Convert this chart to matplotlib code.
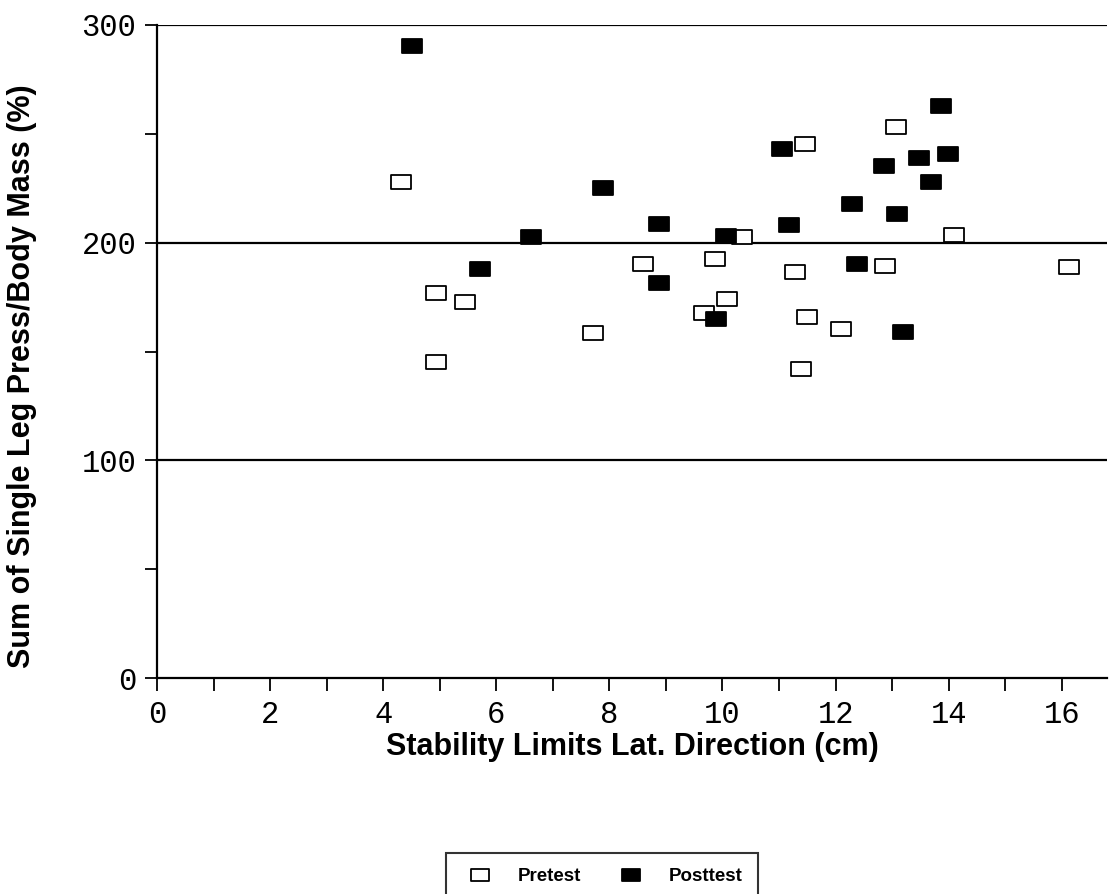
import matplotlib
matplotlib.use("Agg")
import matplotlib.pyplot as plt
from matplotlib.path import Path
from matplotlib.ticker import MultipleLocator

# Pretest (open markers)
pre_x = [4.31, 4.93, 5.45, 4.94, 7.71, 8.59, 13.06, 11.46, 10.34, 14.09,
         9.87, 11.28, 12.87, 16.12, 10.08, 9.68, 11.49, 12.09, 11.38]
pre_y = [227.8, 177.0, 172.7, 145.0, 158.3, 190.0, 253.2, 245.1, 202.4, 203.3,
         192.5, 186.4, 189.4, 188.7, 174.2, 167.5, 166.0, 160.3, 141.9]

# Posttest (filled markers)
post_x = [4.51, 7.89, 8.88, 6.61, 5.72, 8.88, 13.87, 11.06, 12.86, 13.47,
          13.99, 13.68, 12.29, 13.08, 11.17, 10.07, 12.38, 9.88, 13.20]
post_y = [290.3, 225.0, 208.4, 202.4, 188.0, 181.6, 262.9, 243.0, 235.2, 239.0,
          240.7, 227.7, 217.7, 213.1, 208.0, 203.2, 190.0, 165.0, 158.8]

x_ticks = [0, 2, 4, 6, 8, 10, 12, 14, 16]
y_ticks = [0, 100, 200, 300]

# wide rectangle marker
rect = Path([(-1, -0.72), (1, -0.72), (1, 0.72), (-1, 0.72), (-1, -0.72)],
            [Path.MOVETO, Path.LINETO, Path.LINETO, Path.LINETO, Path.CLOSEPOLY])

fig = plt.figure(figsize=(11.09, 8.94), dpi=100)
ax = fig.add_axes([157 / 1109, 1 - 678 / 894, (1107 - 157) / 1109, (678 - 25) / 894])

ax.plot(pre_x, pre_y, linestyle="none", marker=rect, markersize=14,
        markerfacecolor="white", markeredgecolor="black", markeredgewidth=1.3,
        label="Pretest", zorder=3)
ax.plot(post_x, post_y, linestyle="none", marker=rect, markersize=14,
        markerfacecolor="black", markeredgecolor="black", markeredgewidth=1.3,
        label="Posttest", zorder=4)

for yv in [100, 200, 300]:
    ax.axhline(yv, color="black", linewidth=1.6, zorder=2)

ax.set_xlim(0, 16.8)
ax.set_ylim(0, 300)
ax.set_xticks(x_ticks)
ax.xaxis.set_minor_locator(MultipleLocator(1))
ax.set_yticks(y_ticks)
ax.yaxis.set_minor_locator(MultipleLocator(50))

for s in ["top", "right"]:
    ax.spines[s].set_visible(False)
for s in ["left", "bottom"]:
    ax.spines[s].set_linewidth(1.6)

ax.tick_params(axis="both", which="both", direction="out", length=9, width=1.3)
ax.tick_params(axis="x", which="major", pad=7)
ax.tick_params(axis="y", which="major", pad=6)
for lab in ax.get_xticklabels() + ax.get_yticklabels():
    lab.set_family("Liberation Mono")
    lab.set_fontsize(22)

ax.set_xlabel("Stability Limits Lat. Direction (cm)", fontsize=22,
              fontweight="bold", family="Liberation Sans", labelpad=1)
ax.set_ylabel("Sum of Single Leg Press/Body Mass (%)", fontsize=22,
              fontweight="bold", family="Liberation Sans", va="center")
ax.yaxis.set_label_coords((22 - 157) / 950, (678 - 376) / 653)

leg = fig.legend(loc="upper center", bbox_to_anchor=(602 / 1109, 1 - 853 / 894),
                 ncol=2, frameon=True, fancybox=False, edgecolor="black",
                 prop={"family": "Liberation Sans", "weight": "bold", "size": 13.5},
                 handletextpad=1.0, columnspacing=1.7, borderpad=0.8,
                 markerscale=0.9, borderaxespad=0)
leg.get_frame().set_linewidth(1.5)

fig.savefig("out.png", dpi=100)
